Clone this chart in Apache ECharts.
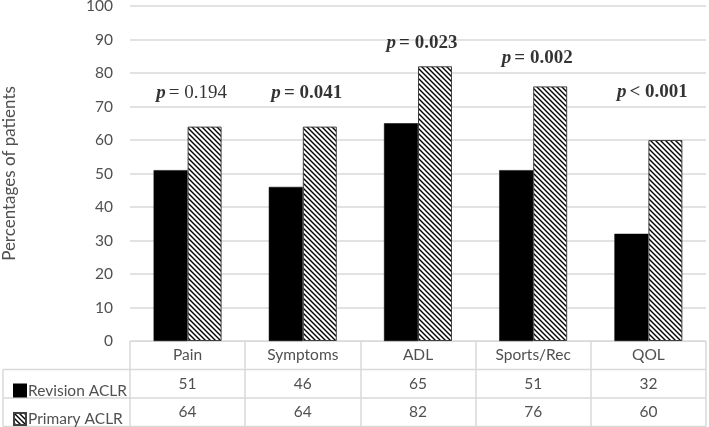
<!DOCTYPE html>
<html>
<head>
<meta charset="utf-8">
<script src="https://cdn.jsdelivr.net/npm/echarts@6/dist/echarts.min.js"></script>
<style>
html,body{margin:0;padding:0;background:#fff;}
#c{width:709px;height:427px;}
</style>
</head>
<body>
<div id="c"></div>
<script>
const categories = ['Pain', 'Symptoms', 'ADL', 'Sports/Rec', 'QOL'];
const revisionACLR = [51, 46, 65, 51, 32];
const primaryACLR = [64, 64, 82, 76, 60];
const pTexts = ['= 0.194', '= 0.041', '= 0.023', '= 0.002', '< 0.001'];
const pBold = [false, true, true, true, true];
const pLabelLevel = [74, 74, 89, 84.5, 74.3];
const seriesNames = ['Revision ACLR', 'Primary ACLR'];

function makeHatch() {
  const s = 5;
  const cv = document.createElement('canvas');
  cv.width = s; cv.height = s;
  const ctx = cv.getContext('2d');
  ctx.fillStyle = '#fff';
  ctx.fillRect(0, 0, s, s);
  ctx.strokeStyle = '#000';
  ctx.lineWidth = 1.4;
  ctx.beginPath();
  ctx.moveTo(-1, -1); ctx.lineTo(s + 1, s + 1);
  ctx.moveTo(-1, s - 1); ctx.lineTo(1, s + 1);
  ctx.moveTo(s - 1, -1); ctx.lineTo(s + 1, 1);
  ctx.stroke();
  return cv;
}
const hatch = { image: makeHatch(), repeat: 'repeat' };

const chart = echarts.init(document.getElementById('c'), null, { renderer: 'canvas' });
const gridLeft = 130, gridRight = 3, gridTop = 6, gridBottom = 86;
const W = 709, H = 427;
const axisY = H - gridBottom;
const lineColor = '#d9d9d9';
const textColor = '#505050';
const rowH = 28.5;

function legendFor(i) {
  return {
    orient: 'vertical', left: 8, top: axisY + rowH * (i + 1) + 8,
    itemWidth: 12, itemHeight: 12, itemGap: 0,
    icon: 'rect', selectedMode: false,
    textStyle: { color: textColor, fontSize: 15.5, fontFamily: 'Lato', padding: [0, 0, 0, -3] },
    data: [seriesNames[i]]
  };
}

const option = {
  animation: false,
  backgroundColor: '#fff',
  textStyle: { fontFamily: 'Lato' },
  grid: { left: gridLeft, right: gridRight, top: gridTop, bottom: gridBottom, containLabel: false, outerBoundsMode: 'none' },
  legend: [legendFor(0), legendFor(1)],
  xAxis: {
    type: 'category',
    data: categories,
    axisLine: { show: true, lineStyle: { color: lineColor, width: 1 } },
    axisTick: { show: true, length: rowH * 3, lineStyle: { color: lineColor, width: 1.5 } },
    axisLabel: {
      margin: 0,
      interval: 0,
      formatter: function (v, i) {
        return '{a|' + v + '}\n{a|' + revisionACLR[i] + '}\n{a|' + primaryACLR[i] + '}';
      },
      rich: { a: { color: textColor, fontSize: 15.5, fontFamily: 'Lato', lineHeight: rowH, height: rowH, align: 'center' } }
    }
  },
  yAxis: {
    type: 'value', min: 0, max: 100, interval: 10,
    name: 'Percentages of patients',
    nameLocation: 'middle', nameGap: 112, nameRotate: 90,
    nameTextStyle: { color: textColor, fontSize: 17, fontFamily: 'Lato' },
    axisLine: { show: false }, axisTick: { show: false },
    axisLabel: { color: textColor, fontSize: 15.5, fontFamily: 'Lato', margin: 17 },
    splitLine: { lineStyle: { color: lineColor, width: 1.5 } }
  },
  series: [
    {
      name: seriesNames[0], type: 'bar', data: revisionACLR,
      barGap: '0%', barCategoryGap: '41%',
      itemStyle: { color: '#000', borderColor: '#000', borderWidth: 0.5 }
    },
    {
      name: seriesNames[1], type: 'bar', data: primaryACLR,
      itemStyle: { color: hatch, borderColor: '#404040', borderWidth: 1 }
    },
    {
      type: 'scatter', symbolSize: 0, silent: true,
      data: pLabelLevel.map((y, i) => [i, y]),
      label: {
        show: true, position: 'inside', offset: [4, 0],
        formatter: function (p) {
          const i = p.dataIndex;
          return '{p|p} {' + (pBold[i] ? 'b' : 'n') + '|' + pTexts[i] + '}';
        },
        rich: {
          p: { fontFamily: 'Liberation Serif', fontStyle: 'italic', fontWeight: 'bold', fontSize: 19, color: '#000' },
          b: { fontFamily: 'Liberation Serif', fontWeight: 'bold', fontSize: 19, color: '#000' },
          n: { fontFamily: 'Liberation Serif', fontWeight: 'normal', fontSize: 19, color: '#000' }
        }
      }
    }
  ],
  graphic: [
    { type: 'line', shape: { x1: 3, y1: axisY + rowH, x2: W - gridRight, y2: axisY + rowH }, style: { stroke: lineColor, lineWidth: 1.5 } },
    { type: 'line', shape: { x1: 3, y1: axisY + rowH * 2, x2: W - gridRight, y2: axisY + rowH * 2 }, style: { stroke: lineColor, lineWidth: 1.5 } },
    { type: 'line', shape: { x1: 3, y1: axisY + rowH * 3, x2: W - gridRight, y2: axisY + rowH * 3 }, style: { stroke: lineColor, lineWidth: 1.5 } },
    { type: 'line', shape: { x1: 3, y1: axisY + rowH, x2: 3, y2: axisY + rowH * 3 }, style: { stroke: lineColor, lineWidth: 1.5 } }
  ]
};
chart.setOption(option);
</script>
</body>
</html>
